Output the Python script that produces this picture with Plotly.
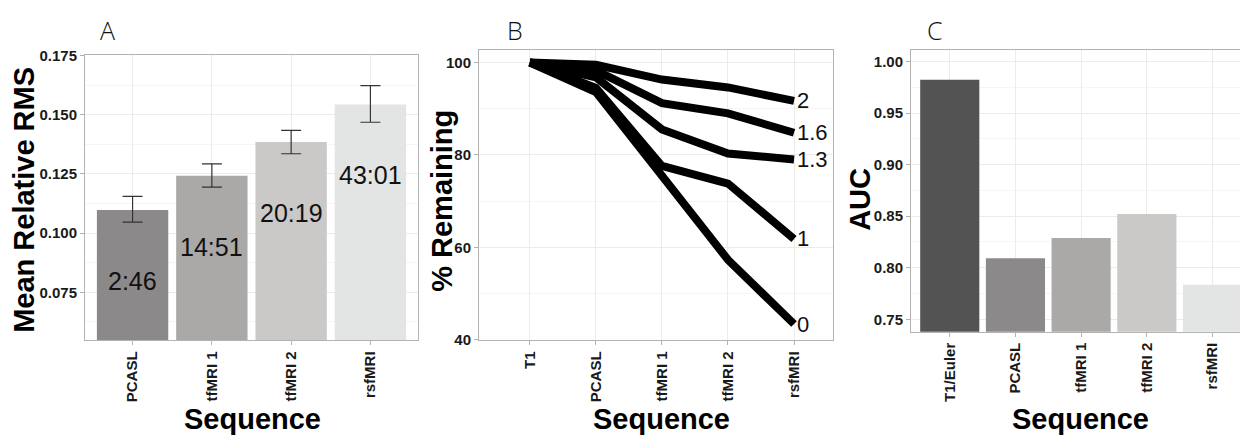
import plotly.graph_objects as go

# ---------------- data ----------------
# Panel A
seq_A = ["PCASL", "tfMRI 1", "tfMRI 2", "rsfMRI"]
rms_A = [0.1098, 0.1242, 0.1385, 0.1543]
err_up_A = [0.0057, 0.0050, 0.0049, 0.0080]
err_dn_A = [0.0052, 0.0048, 0.0050, 0.0075]
time_labels_A = ["2:46", "14:51", "20:19", "43:01"]
colors_A = ["#8b8989", "#aaa9a8", "#cbc9c7", "#e3e4e4"]

# Panel B
seq_B = ["T1", "PCASL", "tfMRI 1", "tfMRI 2", "rsfMRI"]
thresholds_B = ["2", "1.6", "1.3", "1", "0"]
remain_2 = [100, 99.5, 96.3, 94.6, 91.7]
remain_16 = [100, 98.3, 91.2, 89.0, 84.8]
remain_13 = [100, 96.8, 85.5, 80.3, 79.0]
remain_1 = [100, 94.5, 77.6, 73.8, 61.8]
remain_0 = [100, 93.6, 75.5, 57.3, 43.4]
series_B = [remain_2, remain_16, remain_13, remain_1, remain_0]

# Panel C
seq_C = ["T1/Euler", "PCASL", "tfMRI 1", "tfMRI 2", "rsfMRI"]
auc_C = [0.9823, 0.8092, 0.8288, 0.8522, 0.7836]
colors_C = ["#535353", "#8b8989", "#aaa9a8", "#cbc9c7", "#e3e4e4"]

# ---------------- layout helpers ----------------
# the page body has an 8px margin, so the figure starts at page (8, 8)
OFF = 8
W, H = 1240, 428
def fx(px):
    return (px - OFF) / W
def fy(py):
    return 1 - (py - OFF) / H

BORDER = "#b3b3b3"
GRID = "#ebebeb"
MINOR = "#f5f5f5"
TICKFONT = dict(family="Liberation Sans, Arial", size=15, color="#1a1a1a", weight="bold")
TITLEFONT = dict(family="Liberation Sans, Arial", size=29, color="#000000", weight="bold")
PANELFONT = dict(family="Open Sans, Lato", size=25, color="#111111", weight=300)

fig = go.Figure()

# Panel A bars
fig.add_trace(go.Bar(
    x=seq_A, y=rms_A, marker=dict(color=colors_A, line=dict(width=0)),
    width=0.9, xaxis="x", yaxis="y", showlegend=False,
    error_y=dict(type="data", symmetric=False, array=err_up_A, arrayminus=err_dn_A,
                 color="#333333", thickness=1.2, width=10),
))

# Panel B lines
for vals in series_B:
    fig.add_trace(go.Scatter(
        x=list(range(1, len(seq_B) + 1)), y=vals, mode="lines",
        line=dict(color="#000000", width=8), xaxis="x2", yaxis="y2", showlegend=False,
    ))

# Panel C bars
fig.add_trace(go.Bar(
    x=seq_C, y=auc_C, marker=dict(color=colors_C, line=dict(width=0)),
    width=0.9, xaxis="x3", yaxis="y3", showlegend=False,
))

annotations = []
# Bar labels in A
for s, v, t in zip(seq_A, rms_A, time_labels_A):
    annotations.append(dict(x=s, y=v, xref="x", yref="y", text=t, showarrow=False,
                            yshift=-71, font=dict(family="Liberation Sans, Arial", size=25, color="#111111")))
# End labels in B
for lab, vals in zip(thresholds_B, series_B):
    annotations.append(dict(x=len(seq_B), y=vals[-1], xref="x2", yref="y2", text=lab, showarrow=False,
                            xanchor="left", yanchor="middle", xshift=1,
                            font=dict(family="Liberation Sans, Arial", size=22, color="#111111")))

# panel letters
for letter, px in [("A", 99), ("B", 506), ("C", 926)]:
    annotations.append(dict(x=fx(px), y=fy(23), xref="paper", yref="paper", text=letter,
                            showarrow=False, xanchor="left", yanchor="middle", borderpad=0,
                            font=PANELFONT))
# x titles
for px in [252, 661, 1080]:
    annotations.append(dict(x=fx(px), y=fy(427), xref="paper", yref="paper", text="Sequence",
                            showarrow=False, xanchor="center", yanchor="middle", font=TITLEFONT))
# y titles
for txt, px, py in [("Mean Relative RMS", 24, 199), ("% Remaining", 442, 200), ("AUC", 860, 199)]:
    annotations.append(dict(x=fx(px), y=fy(py), xref="paper", yref="paper", text=txt, textangle=-90,
                            showarrow=False, xanchor="center", yanchor="middle", font=TITLEFONT))

common_y = dict(showline=True, linecolor=BORDER, linewidth=1, ticks="outside", ticklen=4,
                tickcolor=BORDER, tickfont=TICKFONT, showgrid=True, gridcolor=GRID, gridwidth=1,
                zeroline=False)
common_x = dict(showline=True, linecolor=BORDER, linewidth=1, ticks="outside", ticklen=4,
                tickcolor=BORDER, tickfont=TICKFONT, tickangle=-90, showgrid=True,
                gridcolor=GRID, gridwidth=1, zeroline=False)

fig.update_layout(
    width=W, height=H, margin=dict(l=0, r=0, t=0, b=0),
    paper_bgcolor="white", plot_bgcolor="white", bargap=0.1,
    annotations=annotations,
    xaxis=dict(domain=[fx(85), fx(418)], anchor="y", range=[-0.6, 3.6], mirror=True, **common_x),
    yaxis=dict(domain=[fy(345), fy(48)], anchor="x", range=[0.0547, 0.1754], mirror=True,
               tickvals=[0.075, 0.100, 0.125, 0.150, 0.175], tickformat=".3f",
               minor=dict(tick0=0.0625, dtick=0.025, showgrid=True, gridcolor=MINOR, ticks=""),
               **common_y),
    xaxis2=dict(domain=[fx(479), fx(833)], anchor="y2", range=[0.23, 5.59], mirror=True,
                tickvals=list(range(1, len(seq_B) + 1)), ticktext=seq_B, **common_x),
    yaxis2=dict(domain=[fy(345), fy(43)], anchor="x2", range=[39.85, 102.77], mirror=True,
                tickvals=[40, 60, 80, 100],
                minor=dict(tick0=50, dtick=20, showgrid=True, gridcolor=MINOR, ticks=""),
                **common_y),
    xaxis3=dict(domain=[fx(911), 1.0], anchor="y3", range=[-0.59, 4.54], mirror=True, **common_x),
    yaxis3=dict(domain=[fy(336), fy(43)], anchor="x3", range=[0.7379, 1.0115], mirror=False,
                tickvals=[0.75, 0.80, 0.85, 0.90, 0.95, 1.00], tickformat=".2f",
                minor=dict(tick0=0.775, dtick=0.05, showgrid=True, gridcolor=MINOR, ticks=""),
                **common_y),
)

fig.write_html("out.html")
